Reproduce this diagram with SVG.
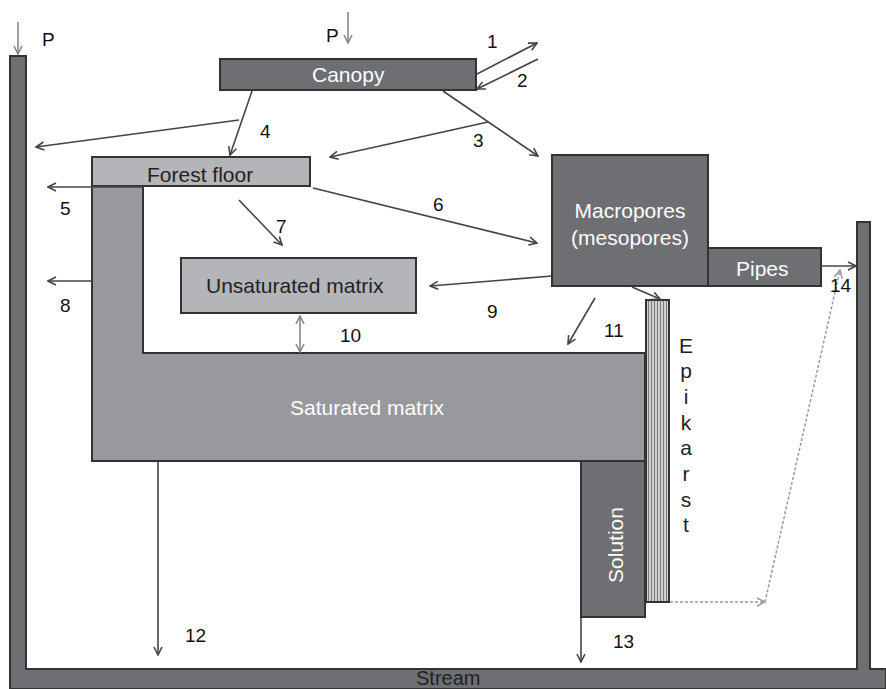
<svg xmlns="http://www.w3.org/2000/svg" width="886" height="689" viewBox="0 0 886 689">
<style>
.dark{fill:#6e6f73;stroke:#333;stroke-width:2}
.med{fill:#98999d;stroke:#333;stroke-width:2}
.light{fill:#b4b5b8;stroke:#333;stroke-width:2}
text{font-family:"Liberation Sans",Arial,sans-serif;font-size:21px}
.w{fill:#ffffff}
.k{fill:#222}
.lbl{fill:#111;font-size:19px}
.c{stroke:#444;stroke-width:1.6;fill:none}
.g{stroke:#888;stroke-width:1.6;fill:none}
.d{stroke:#999;stroke-width:1.5;fill:none;stroke-dasharray:3 2}
</style>
<defs>
<marker id="ah" viewBox="0 0 10 10" refX="9" refY="5" markerWidth="10" markerHeight="10" markerUnits="userSpaceOnUse" orient="auto-start-reverse">
<path d="M1,1 L9,5 L1,9" fill="none" stroke="#444" stroke-width="1.6"/>
</marker>
<marker id="ahg" viewBox="0 0 10 10" refX="9" refY="5" markerWidth="10" markerHeight="10" markerUnits="userSpaceOnUse" orient="auto-start-reverse">
<path d="M1,1 L9,5 L1,9" fill="none" stroke="#888" stroke-width="1.6"/>
</marker>
<marker id="ahd" viewBox="0 0 10 10" refX="9" refY="5" markerWidth="10" markerHeight="10" markerUnits="userSpaceOnUse" orient="auto">
<path d="M1,1 L9,5 L1,9" fill="none" stroke="#999" stroke-width="1.5"/>
</marker>
<pattern id="hatch" width="3" height="10" patternUnits="userSpaceOnUse">
<rect width="3" height="10" fill="#d0d0d2"/>
<rect x="0" width="1" height="10" fill="#7a7b7e"/>
</pattern>
</defs>

<g id="catchment">
<path class="dark" d="M10,56 L26,56 L26,669 L857,669 L857,222 L870,222 L870,669 L886,669 L886,689 L10,689 Z"/>
<text x="416" y="685" class="k" style="font-size:20px">Stream</text>
</g>

<g id="saturated">
<path class="med" d="M92,186 L143,186 L143,353 L645,353 L645,461 L92,461 Z"/>
<text x="290" y="415" class="w">Saturated matrix</text>
</g>

<g id="forest-floor">
<rect class="light" x="92" y="157" width="218" height="29"/>
<text x="147" y="182" class="k">Forest floor</text>
</g>

<g id="canopy">
<rect class="dark" x="220" y="59" width="256" height="31"/>
<text x="312" y="82" class="w">Canopy</text>
</g>

<g id="unsaturated">
<rect class="light" x="181" y="258" width="235" height="55"/>
<text x="206" y="293" class="k">Unsaturated matrix</text>
</g>

<g id="macropores">
<rect class="dark" x="552" y="155" width="156" height="131"/>
<text x="630" y="218" class="w" text-anchor="middle">Macropores</text>
<text x="630" y="245" class="w" text-anchor="middle">(mesopores)</text>
</g>

<g id="pipes">
<rect class="dark" x="708" y="248" width="113" height="38"/>
<text x="736" y="276" class="w">Pipes</text>
</g>

<g id="solution">
<rect class="dark" x="581" y="461" width="64" height="156"/>
<text x="623" y="545" class="w" text-anchor="middle" transform="rotate(-90 623 545)">Solution</text>
</g>

<g id="epikarst">
<rect x="646" y="300" width="23" height="302" fill="url(#hatch)" stroke="#333" stroke-width="2"/>
<text x="686" y="353" class="k" text-anchor="middle">E</text>
<text x="686" y="378" class="k" text-anchor="middle">p</text>
<text x="686" y="404" class="k" text-anchor="middle">i</text>
<text x="686" y="430" class="k" text-anchor="middle">k</text>
<text x="686" y="455" class="k" text-anchor="middle">a</text>
<text x="686" y="481" class="k" text-anchor="middle">r</text>
<text x="686" y="507" class="k" text-anchor="middle">s</text>
<text x="686" y="532" class="k" text-anchor="middle">t</text>
</g>

<g id="connectors">
<line class="g" x1="18" y1="22" x2="18" y2="54" marker-end="url(#ahg)"/>
<line class="g" x1="348" y1="12" x2="348" y2="43" marker-end="url(#ahg)"/>
<line class="c" x1="477" y1="74" x2="537" y2="43" marker-end="url(#ah)"/>
<line class="c" x1="538" y1="59" x2="477" y2="89" marker-end="url(#ah)"/>
<line class="c" x1="443" y1="91" x2="538" y2="156" marker-end="url(#ah)"/>
<line class="c" x1="488" y1="122" x2="330" y2="157" marker-end="url(#ah)"/>
<line class="c" x1="252" y1="91" x2="230" y2="155" marker-end="url(#ah)"/>
<line class="c" x1="239" y1="120" x2="36" y2="147" marker-end="url(#ah)"/>
<line class="c" x1="143" y1="187" x2="48" y2="187" marker-end="url(#ah)"/>
<line class="c" x1="313" y1="188" x2="537" y2="243" marker-end="url(#ah)"/>
<line class="c" x1="239" y1="200" x2="282" y2="245" marker-end="url(#ah)"/>
<line class="c" x1="92" y1="281" x2="48" y2="281" marker-end="url(#ah)"/>
<line class="c" x1="552" y1="276" x2="430" y2="286" marker-end="url(#ah)"/>
<line class="g" x1="300" y1="316" x2="300" y2="352" marker-start="url(#ahg)" marker-end="url(#ahg)"/>
<line class="c" x1="595" y1="298" x2="568" y2="344" marker-end="url(#ah)"/>
<line class="c" x1="632" y1="287" x2="660" y2="299" marker-end="url(#ah)"/>
<line class="c" x1="158" y1="462" x2="158" y2="655" marker-end="url(#ah)"/>
<line class="c" x1="581" y1="618" x2="581" y2="662" marker-end="url(#ah)"/>
<line class="c" x1="821" y1="266" x2="856" y2="266" marker-end="url(#ah)"/>
<line class="d" x1="670" y1="602" x2="765" y2="602" marker-end="url(#ahd)"/>
<line class="d" x1="765" y1="602" x2="840" y2="270" marker-end="url(#ahd)"/>
</g>

<g id="labels">
<text x="42" y="46" class="lbl">P</text>
<text x="326" y="42" class="lbl">P</text>
<text x="487" y="48" class="lbl">1</text>
<text x="517" y="87" class="lbl">2</text>
<text x="473" y="147" class="lbl">3</text>
<text x="260" y="138" class="lbl">4</text>
<text x="60" y="215" class="lbl">5</text>
<text x="433" y="211" class="lbl">6</text>
<text x="276" y="233" class="lbl">7</text>
<text x="60" y="312" class="lbl">8</text>
<text x="487" y="318" class="lbl">9</text>
<text x="340" y="342" class="lbl">10</text>
<text x="604" y="337" class="lbl">11</text>
<text x="185" y="642" class="lbl">12</text>
<text x="613" y="648" class="lbl">13</text>
<text x="830" y="292" class="lbl">14</text>
</g>
</svg>
